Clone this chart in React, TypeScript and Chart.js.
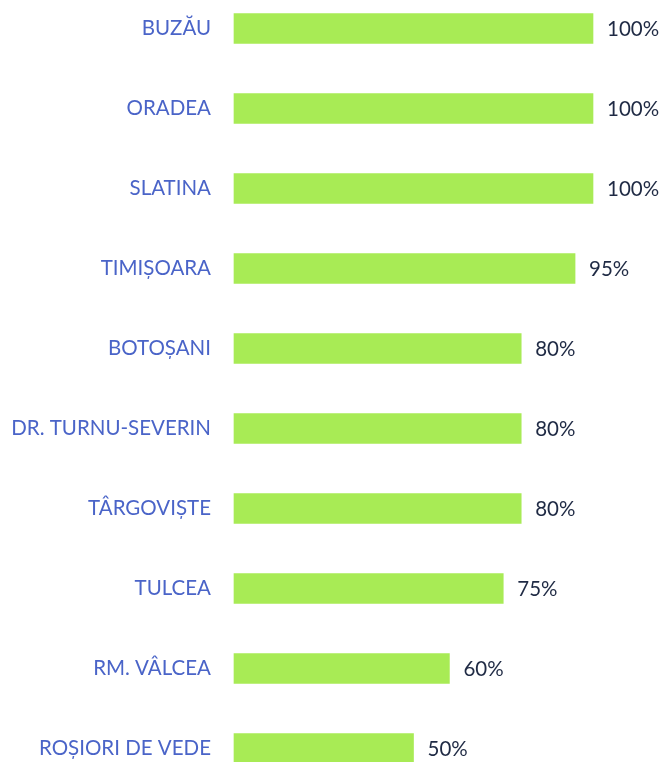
import React, { useEffect, useRef } from "react";
import { Chart, registerables } from "chart.js";

Chart.register(...registerables);

const categories = [
  "BUZĂU",
  "ORADEA",
  "SLATINA",
  "TIMIȘOARA",
  "BOTOȘANI",
  "DR. TURNU-SEVERIN",
  "TÂRGOVIȘTE",
  "TULCEA",
  "RM. VÂLCEA",
  "ROȘIORI DE VEDE",
];
const values = [100, 100, 100, 95, 80, 80, 80, 75, 60, 50];

const FONT = "Lato, 'Open Sans', sans-serif";

const valueLabels = {
  id: "valueLabels",
  afterDatasetsDraw(chart: any) {
    const ctx = chart.ctx;
    const meta = chart.getDatasetMeta(0);
    ctx.save();
    ctx.font = `20.5px ${FONT}`;
    ctx.fillStyle = "#1f2a44";
    ctx.textAlign = "left";
    ctx.textBaseline = "middle";
    meta.data.forEach((bar: any, i: number) => {
      ctx.fillText(`${values[i]}%`, bar.x + 14, bar.y + 1);
    });
    ctx.restore();
  },
};

export default function App() {
  const ref = useRef<HTMLCanvasElement | null>(null);
  useEffect(() => {
    if (!ref.current) return;
    const chart = new Chart(ref.current, {
      type: "bar",
      data: {
        labels: categories,
        datasets: [
          {
            data: values,
            backgroundColor: "#a8eb55",
            barThickness: 30,
            clip: false as any,
          },
        ],
      },
      options: {
        indexAxis: "y",
        animation: false,
        responsive: false,
        maintainAspectRatio: false,
        layout: { padding: { top: 28.5, bottom: 13.5, left: 0, right: 72 } },
        plugins: { legend: { display: false }, tooltip: { enabled: false } },
        scales: {
          x: { display: false, min: 0, max: 100 },
          y: {
            offset: false,
            grid: { display: false, drawTicks: false },
            border: { display: false },
            ticks: {
              padding: 23,
              color: "#4a64c8",
              font: { family: FONT, size: 20.5 },
            },
            afterFit(scale: any) {
              scale.width = 234;
              scale.paddingTop = 0;
              scale.paddingBottom = 0;
            },
          },
        },
      },
      plugins: [valueLabels],
    });
    return () => chart.destroy();
  }, []);
  return (
    <div style={{ position: "fixed", left: 0, top: 0, width: 665, height: 762 }}>
      <canvas ref={ref} width={665} height={762} style={{ width: 665, height: 762 }} />
    </div>
  );
}
